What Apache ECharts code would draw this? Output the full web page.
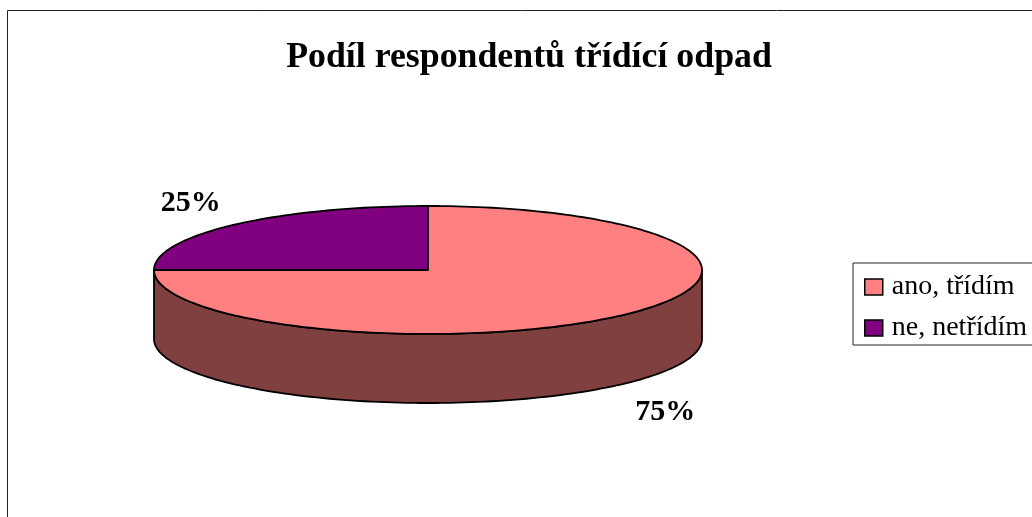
<!DOCTYPE html>
<html>
<head>
<meta charset="utf-8">
<style>html,body{margin:0;padding:0;background:#fff;overflow:hidden}#c{width:1032px;height:517px}</style>
<script src="https://cdn.jsdelivr.net/npm/echarts@6/dist/echarts.min.js"></script>
</head>
<body>
<div id="c"></div>
<script>
const categories = ['ano, třídím', 'ne, netřídím'];
const shares = [75, 25];
const topColors = ['#FF8080', '#800080'];
const wallColors = ['#804040', '#400040'];
const chartTitle = 'Podíl respondentů třídící odpad';

const CX = 428, CY = 270, RX = 274, RY = 64, DEPTH = 69, FONT = '"Liberation Serif","Times New Roman",serif';
const total = shares.reduce((a, b) => a + b, 0);
const rim = (deg, dy) => {
  const t = deg * Math.PI / 180;
  return [CX + RX * Math.sin(t), CY - RY * Math.cos(t) + (dy || 0)];
};
const arc = (a, b, dy) => {
  const pts = [], n = Math.max(2, Math.ceil(Math.abs(b - a) / 1.5));
  for (let i = 0; i <= n; i++) pts.push(rim(a + (b - a) * i / n, dy));
  return pts;
};
function makeRender(idx) {
  return function () {
    const before = shares.slice(0, idx).reduce((a, b) => a + b, 0);
    const start = before / total * 360, end = (before + shares[idx]) / total * 360;
    const line = { stroke: '#000', lineWidth: 1.8, lineJoin: 'round' };
    const children = [];
    const wa = Math.max(start, 90), wb = Math.min(end, 270);
    if (wb > wa) {
      children.push({
        type: 'polygon',
        shape: { points: arc(wa, wb, 0).concat(arc(wb, wa, DEPTH)) },
        style: Object.assign({ fill: wallColors[idx] }, line)
      });
    }
    children.push({
      type: 'polygon',
      shape: { points: [[CX, CY]].concat(arc(start, end, 0)) },
      style: Object.assign({ fill: topColors[idx] }, line)
    });
    const mid = (start + end) / 2 * Math.PI / 180;
    const front = Math.cos(mid) < 0;
    children.push({
      type: 'text',
      style: {
        x: CX + RX * Math.sin(mid) * 1.225,
        y: CY - RY * Math.cos(mid) * 1.55 + (front ? DEPTH : 0) + 3,
        text: Math.round(shares[idx] / total * 100) + '%',
        fill: '#000',
        font: 'bold 30px ' + FONT,
        align: 'center',
        verticalAlign: 'middle'
      }
    });
    return { type: 'group', children };
  };
}
const chart = echarts.init(document.getElementById('c'), null, { renderer: 'canvas' });
chart.setOption({
  animation: false,
  backgroundColor: '#fff',
  title: {
    text: chartTitle,
    left: 524,
    top: 34,
    textAlign: 'center',
    textStyle: { fontFamily: FONT, fontWeight: 'bold', fontSize: 35.8, color: '#000', lineHeight: 38 }
  },
  legend: {
    orient: 'vertical',
    left: 853,
    top: 263,
    padding: [10, 10, 3, 11],
    itemWidth: 18,
    itemHeight: 16,
    itemGap: 13,
    borderColor: '#222',
    borderWidth: 1,
    borderRadius: 0,
    icon: 'rect',
    selectedMode: false,
    itemStyle: { borderColor: '#000', borderWidth: 1.5 },
    textStyle: { fontFamily: FONT, fontSize: 28, color: '#000', padding: [0, 0, 0, 4] },
    data: categories
  },
  graphic: [{
    type: 'rect', silent: true, z: -1,
    shape: { x: 7.5, y: 10.5, width: 1100, height: 600 },
    style: { fill: 'none', stroke: '#222', lineWidth: 1 }
  }],
  series: categories.map((name, i) => ({
    type: 'custom',
    name,
    coordinateSystem: 'none',
    silent: true,
    z: i === 0 ? 3 : 2,
    itemStyle: { color: topColors[i] },
    renderItem: makeRender(i),
    data: [[shares[i]]]
  }))
});
</script>
</body>
</html>
